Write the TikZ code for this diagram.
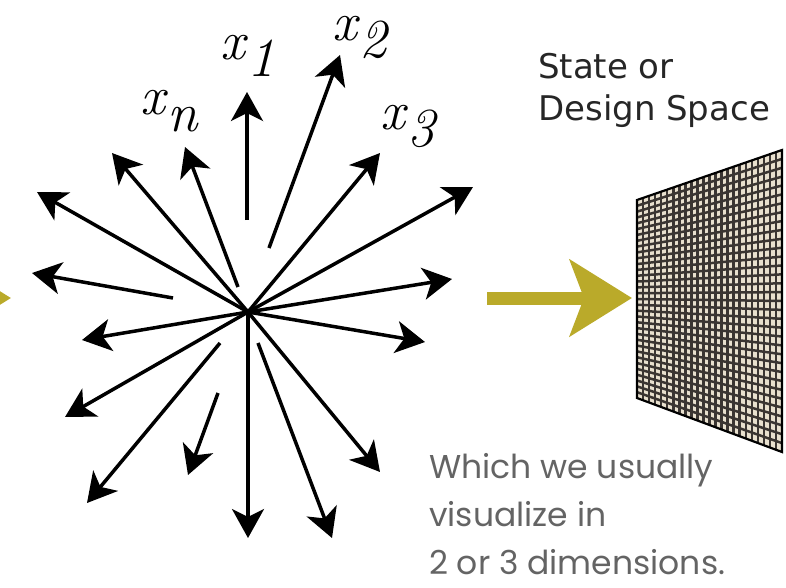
\documentclass[tikz,border=0pt]{standalone}
\usepackage{fontspec}
\usetikzlibrary{arrows.meta,calc}
\newfontfamily\headfont{DejaVu Sans}
\newfontfamily\notefont{Poppins}
\definecolor{mustard}{RGB}{186,170,42}
\definecolor{gridbg}{RGB}{232,224,206}
\definecolor{gridln}{RGB}{58,53,50}
\definecolor{notegray}{RGB}{100,100,100}
\newcommand{\xsub}[1]{\textit{x}\raisebox{-17pt}{\textit{#1}}}

\begin{document}
\begin{tikzpicture}[x=1pt, y=-1pt,
	vec/.style={line width=3.5pt, -{Stealth[length=29pt, width=32pt, inset=8pt]}},
	big/.style={line width=13pt, mustard, -{Stealth[length=62pt, width=76pt, inset=14pt]}},
	lab/.style={anchor=base west, inner sep=0pt, text height=24pt, font=\fontsize{55}{60}\selectfont}]
	\useasboundingbox (0,0) rectangle (786,587);
	\clip (0,0) rectangle (786,587);
	% the bundle of variables
	\coordinate (O) at (248,312);
	\coordinate (t1) at (247,92);
	\coordinate (t2) at (340,55);
	\coordinate (t3) at (380,153);
	\coordinate (t4) at (473,187);
	\coordinate (t5) at (452,279);
	\coordinate (t6) at (425,342);
	\coordinate (t7) at (380,472);
	\coordinate (t8) at (332,538);
	\coordinate (t9) at (248,538);
	\coordinate (t10) at (188,475);
	\coordinate (t11) at (87,503);
	\coordinate (t12) at (65,417);
	\coordinate (t13) at (82,340);
	\coordinate (t14) at (32,273);
	\coordinate (t15) at (37,192);
	\coordinate (t16) at (112,153);
	\coordinate (tn) at (185,147);
	\coordinate (s1) at (247,220);
	\coordinate (s2) at (269,248);
	\coordinate (s8) at (258,343);
	\coordinate (s10) at (218,393);
	\coordinate (s11) at (220,343);
	\coordinate (s14) at (173,298);
	\coordinate (sn) at (238,287);
	\foreach \t in {3,4,5,6,7,9,12,13,15,16}
		\draw[vec] (O) -- (t\t);
	\foreach \t in {1,2,8,10,11,14,n}
		\draw[vec] (s\t) -- (t\t);
	\node[lab] (lx1) at (220,59) {\xsub{1}};
	\node[lab] (lx2) at (332,40) {\xsub{2}};
	\node[lab] (lxn) at (140,114) {\xsub{n}};
	\node[lab] (lx3) at (380,129) {\xsub{3}};
	% yellow arrows
	\coordinate (ya) at (487,298);
	\coordinate (yb) at (632,298);
	\draw[big] (ya) -- (yb);
	\coordinate (yc) at (-150,298);
	\coordinate (yd) at (11,298);
	\draw[big] (yc) -- (yd);
	% the design space
	\coordinate (tl) at (637,200);
	\coordinate (tr) at (782,150);
	\coordinate (br) at (782,452);
	\coordinate (bl) at (637,398);
	\fill[gridbg] (tl) -- (tr) -- (br) -- (bl) -- cycle;
	\foreach \i in {1,...,33}
		\draw[gridln, line width=2.5pt] ($(tl)!\i/34!(bl)$) -- ($(tr)!\i/34!(br)$);
	\foreach \j in {1,...,23}
		\draw[gridln, line width=2.5pt] ($(tl)!\j/24!(tr)$) -- ($(bl)!\j/24!(br)$);
	\draw[line width=2.2pt] (tl) -- (tr) -- (br) -- (bl) -- cycle;
	\node[anchor=base west, inner sep=0pt, align=left, text=black!85,
		font=\headfont\fontsize{34}{42}\selectfont] (space) at (538,120) {State or\\Design Space};
	\node[anchor=base west, inner sep=0pt, align=left, text=notegray,
		font=\notefont\fontsize{33}{48}\selectfont] (note) at (429,574) {Which we usually\\visualize in\\2 or 3 dimensions.};
\end{tikzpicture}
\end{document}
